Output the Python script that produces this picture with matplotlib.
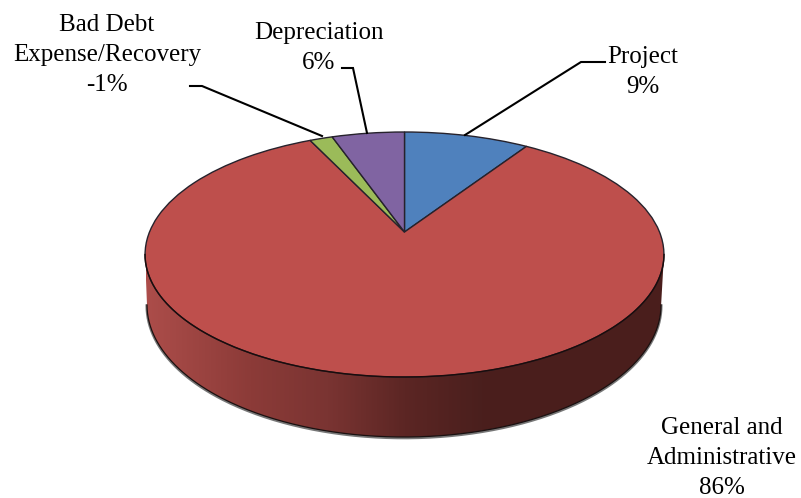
import numpy as np
import matplotlib
matplotlib.use("Agg")
import matplotlib.pyplot as plt
from matplotlib.path import Path
from matplotlib.patches import PathPatch
from matplotlib.transforms import Transform
from matplotlib.colors import LinearSegmentedColormap

# Data
categories = ["Project", "General and\nAdministrative", "Bad Debt\nExpense/Recovery", "Depreciation"]
slice_sizes = [9.3, 83.6, 1.7, 5.4]    # slice magnitudes
shown_percent = ["9%", "86%", "-1%", "6%"]
slice_colors = ["#4F81BD", "#BE4F4C", "#9BBB59", "#8064A2"]

plt.rcParams["font.family"] = ["Liberation Serif", "DejaVu Serif"]
FS = 18.0

W, H = 801, 498
fig = plt.figure(figsize=(W / 100, H / 100), dpi=100)
ax = fig.add_axes([0, 0, 1, 1])

# Perspective projection of the unit pie onto the page
CX, CY, A, B, K = 404.5, 232.0, 255.0, 118.4, 0.184


class Persp(Transform):
    input_dims = output_dims = 2

    def transform_non_affine(self, v):
        v = np.asarray(v, float)
        d = 1 + K * v[:, 1]
        return np.column_stack([CX + A * v[:, 0] / d, CY - B * v[:, 1] / d])


wedges, _ = ax.pie(slice_sizes, colors=slice_colors, startangle=90, counterclock=False,
                   radius=1.0, wedgeprops=dict(edgecolor="#26222c", linewidth=1.0))
proj = Persp() + ax.transData
for w in wedges:
    w.set_transform(proj)
    w.set_zorder(5)
    w.set_clip_on(False)

# Side wall of the pie
t = np.linspace(np.pi, 2 * np.pi, 300)
top_x, top_y = 404.5 + 259.5 * np.cos(t), 254.5 - 122.5 * np.sin(t)
bot_x, bot_y = 404.0 + 257.0 * np.cos(t), 305.0 - 132.0 * np.sin(t)
wall = np.vstack([np.column_stack([top_x, top_y]),
                  np.column_stack([bot_x, bot_y])[::-1],
                  [[top_x[0], top_y[0]]]])
cmap = LinearSegmentedColormap.from_list("wall", [
    (0.00, "#AC4D4A"), (0.20, "#8C3B38"), (0.35, "#7A3432"),
    (0.50, "#5C2624"), (0.65, "#4A1F1D"), (1.00, "#4B1E1C")])
im = ax.imshow(np.linspace(0, 1, 512)[None, :], extent=(146, 664, 440, 250),
               cmap=cmap, aspect="auto", zorder=2)
clip = PathPatch(Path(wall), transform=ax.transData, fc="none", ec="none")
ax.add_patch(clip)
im.set_clip_path(clip)

# Rim lines
ax.plot(bot_x, bot_y + 0.8, color="#777777", lw=2.2, zorder=1)
ax.plot(bot_x, bot_y, color="#1a1010", lw=0.9, zorder=3)
ax.plot(top_x, top_y, color="#1a0c0c", lw=1.0, zorder=6)

ax.set_aspect("auto")
ax.set_xlim(0, W)
ax.set_ylim(H, 0)
ax.set_axis_off()

# Leader lines
leaders = [([465, 581, 605], [135, 62, 62]),
           ([367, 353, 342], [133, 68, 68]),
           ([322, 202, 190], [136, 86, 86])]
for lx, ly in leaders:
    ax.plot(lx, ly, color="black", lw=1.5, zorder=7, solid_joinstyle="miter")

# Labels
label_pos = [(643, 72), (722, 458), (107, 55), (319, 48)]
for name, pct, (lx, ly) in zip(categories, shown_percent, label_pos):
    ax.text(lx, ly, f"{name}\n{pct}", ha="center", va="center", fontsize=FS,
            linespacing=1.45, color="black", zorder=8)

fig.savefig("out.png", dpi=100)
